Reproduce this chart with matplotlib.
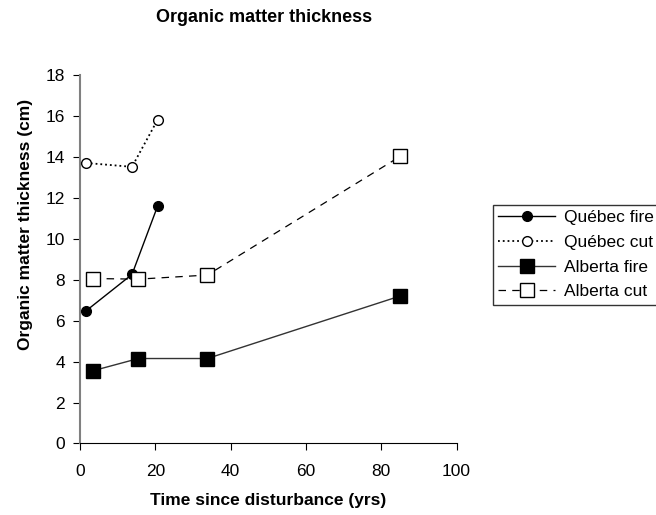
import matplotlib
matplotlib.use("Agg")
import matplotlib.pyplot as plt

plt.rcParams['font.family'] = ['Liberation Sans', 'DejaVu Sans']

# data
qc_fire_x = [1.6, 13.8, 20.6]
qc_fire_y = [6.48, 8.26, 11.6]
qc_cut_x = [1.6, 13.8, 20.6]
qc_cut_y = [13.71, 13.52, 15.82]
ab_fire_x = [3.4, 15.5, 33.8, 85.1]
ab_fire_y = [3.55, 4.15, 4.15, 7.21]
ab_cut_x = [3.4, 15.5, 33.8, 85.1]
ab_cut_y = [8.06, 8.03, 8.23, 14.04]

fig = plt.figure(figsize=(6.56, 5.15), dpi=100)
ax = fig.add_axes([0.122, 0.139, 0.574, 0.715])

ax.plot(qc_fire_x, qc_fire_y, '-', color='black', lw=1, marker='o', ms=7,
        mfc='black', mec='black', label='Québec fire', zorder=3)
ax.plot(qc_cut_x, qc_cut_y, ':', color='black', lw=1.3, marker='o', ms=7,
        mfc='white', mec='black', label='Québec cut', zorder=3)
ax.plot(ab_fire_x, ab_fire_y, '-', color='#333333', lw=1, marker='s', ms=9.5,
        mfc='black', mec='black', label='Alberta fire', zorder=3)
ax.plot(ab_cut_x, ab_cut_y, '--', color='black', lw=0.9, dashes=(6, 5), marker='s', ms=9.5,
        mfc='white', mec='black', label='Alberta cut', zorder=3)

ax.set_xlim(0, 100)
ax.set_ylim(0, 18)
ax.set_xticks(range(0, 101, 20))
ax.set_yticks(range(0, 19, 2))
ax.spines['top'].set_visible(False)
ax.spines['right'].set_visible(False)
ax.spines['left'].set_color('#808080')
ax.spines['left'].set_linewidth(1.5)
ax.tick_params(direction='out', length=5, labelsize=12.5, colors='black')
ax.tick_params(axis='y', pad=6)
ax.tick_params(axis='x', pad=10)

ax.set_xlabel('Time since disturbance (yrs)', fontsize=12.5, fontweight='bold', labelpad=10)
ax.set_ylabel('Organic matter thickness (cm)', fontsize=12.5, fontweight='bold')
ax.yaxis.set_label_coords(-0.125, 0.595)
fig.text(264 / 656, 1 - 18 / 515, 'Organic matter thickness', ha='center', va='center',
         fontsize=13, fontweight='bold')

leg = fig.legend(loc='upper left', bbox_to_anchor=(493 / 656, 1 - 205 / 515),
                 fontsize=12.5, frameon=True, fancybox=False, edgecolor='black',
                 handlelength=3.3, handletextpad=0.5, borderpad=0.3, labelspacing=0.55,
                 borderaxespad=0)
leg.get_frame().set_linewidth(1)

fig.savefig('out.png', dpi=100)
